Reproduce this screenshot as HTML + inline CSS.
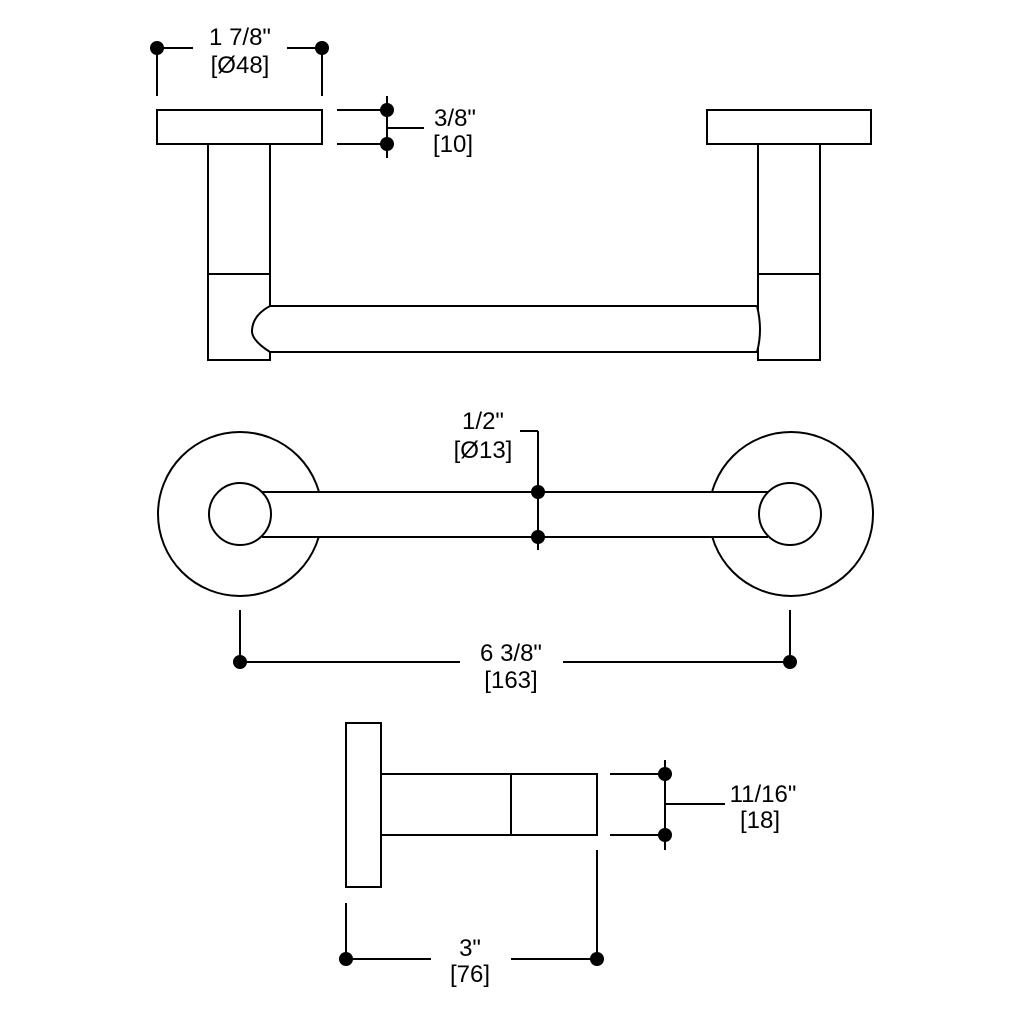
<!DOCTYPE html>
<html><head><style>body{margin:0;background:#fff}svg{display:block}text{font-family:"Liberation Sans",Arial,sans-serif;font-size:24px;fill:#000;text-anchor:middle}</style></head>
<body>
<svg width="1024" height="1024" viewBox="0 0 1024 1024" fill="none" stroke="#000" stroke-width="2">
<!-- top view -->
<rect x="157" y="110" width="165" height="34"/>
<rect x="707" y="110" width="164" height="34"/>
<path d="M208 144V360H270V144M208 274H270"/>
<path d="M758 144V360H820V144M758 274H820"/>
<path d="M270 306H757Q763 330 757 352H270Q251 340 252 330Q253 315 270 306Z" fill="#fff"/>
<!-- dims top -->
<path d="M157 48H193M287 48H322M157 48V96M322 48V96"/>
<circle cx="157" cy="48" r="7" fill="#000" stroke="none"/>
<circle cx="322" cy="48" r="7" fill="#000" stroke="none"/>
<text x="240" y="45" stroke="none">1 7/8"</text>
<text x="240" y="73" stroke="none">[Ø48]</text>
<path d="M337 110H387M337 144H387M387 96V158M387 128H424"/>
<circle cx="387" cy="110" r="7" fill="#000" stroke="none"/>
<circle cx="387" cy="144" r="7" fill="#000" stroke="none"/>
<text x="455" y="126" stroke="none">3/8"</text>
<text x="453" y="152" stroke="none">[10]</text>
<!-- middle view -->
<circle cx="240" cy="514" r="82"/>
<circle cx="791" cy="514" r="82"/>
<rect x="262" y="492" width="506" height="45" fill="#fff" stroke="none"/>
<path d="M262 492H768M262 537H768"/>
<circle cx="240" cy="514" r="31" fill="#fff"/>
<circle cx="790" cy="514" r="31" fill="#fff"/>
<path d="M538 431V550M520 431H538"/>
<circle cx="538" cy="492" r="7" fill="#000" stroke="none"/>
<circle cx="538" cy="537" r="7" fill="#000" stroke="none"/>
<text x="483" y="429" stroke="none">1/2"</text>
<text x="483" y="458" stroke="none">[Ø13]</text>
<path d="M240 610V662H460M563 662H790V610"/>
<circle cx="240" cy="662" r="7" fill="#000" stroke="none"/>
<circle cx="790" cy="662" r="7" fill="#000" stroke="none"/>
<text x="511" y="661" stroke="none">6 3/8"</text>
<text x="511" y="688" stroke="none">[163]</text>
<!-- side view -->
<rect x="346" y="723" width="35" height="164"/>
<rect x="381" y="774" width="216" height="61"/>
<path d="M511 774V835"/>
<path d="M610 774H665M610 835H665M665 760V850M665 804H725"/>
<circle cx="665" cy="774" r="7" fill="#000" stroke="none"/>
<circle cx="665" cy="835" r="7" fill="#000" stroke="none"/>
<text x="763" y="802" stroke="none">11/16"</text>
<text x="760" y="828" stroke="none">[18]</text>
<path d="M346 903V959H431M511 959H597V850"/>
<circle cx="346" cy="959" r="7" fill="#000" stroke="none"/>
<circle cx="597" cy="959" r="7" fill="#000" stroke="none"/>
<text x="470" y="956" stroke="none">3"</text>
<text x="470" y="982" stroke="none">[76]</text>
</svg>
</body></html>
